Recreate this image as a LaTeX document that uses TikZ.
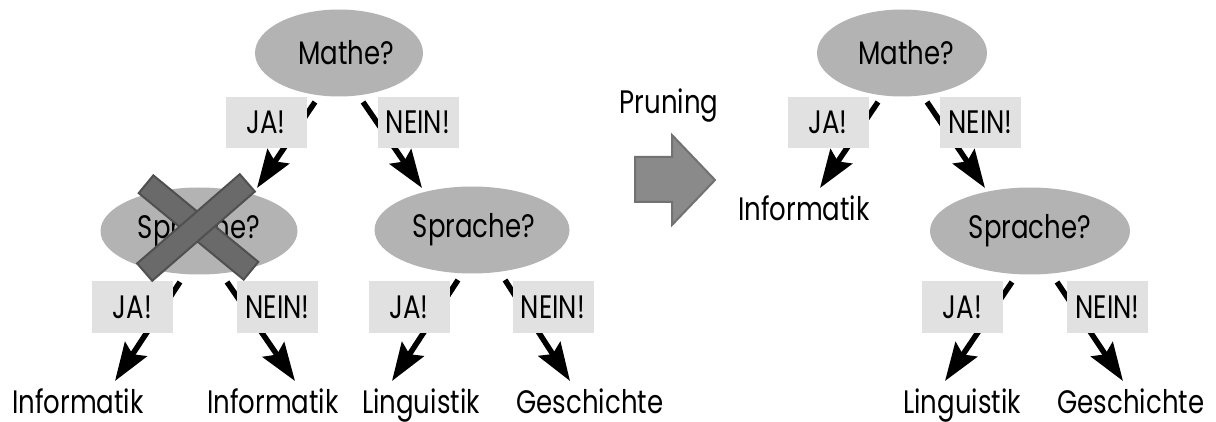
\documentclass[tikz,border=0pt]{standalone}
\usepackage{fontspec}
\setmainfont[FakeStretch=0.8]{Poppins}
\usetikzlibrary{shapes.geometric,arrows.meta,calc}
\definecolor{qfill}{HTML}{B3B3B3}
\definecolor{afill}{HTML}{E1E1E1}
\definecolor{xfill}{HTML}{6A6A6A}
\definecolor{xline}{HTML}{505050}
\definecolor{pfill}{HTML}{8A8A8A}
\definecolor{pline}{HTML}{727272}
\tikzset{
  question/.style={ellipse, fill=qfill, inner sep=0pt, minimum height=87pt},
  answer/.style={rectangle, fill=afill, inner sep=0pt, minimum width=81pt, minimum height=51pt},
  leaf/.style={inner sep=0pt, anchor=base},
  branch/.style={line width=5.5pt, -{Stealth[length=38pt, width=26pt, inset=6pt]}},
  crossbar/.style={rectangle, fill=xfill, draw=xline, line width=2pt, minimum width=136pt, minimum height=23pt},
  txt/.style={font=\fontsize{32.5}{34}\selectfont}
}
\begin{document}
\begin{tikzpicture}[x=1pt, y=-1pt, txt]
\useasboundingbox (0,0) rectangle (1216,422);

% ---------- full tree ----------
\node[question, minimum width=168pt] (m1) at (339,53) {\hspace*{14pt}Mathe?};
\node[question, minimum width=197pt] (s1) at (199,231) {Sprache?};
\node[question, minimum width=195pt] (s2) at (472,230) {\hspace*{4pt}Sprache?};

\coordinate (m1ja)  at (315,102);  \coordinate (m1jat)  at (257,188);
\coordinate (m1ne)  at (363,102);  \coordinate (m1net)  at (422,188);
\coordinate (s1ja)  at (180,282);  \coordinate (s1jat)  at (115,381);
\coordinate (s1ne)  at (227,282);  \coordinate (s1net)  at (295,381);
\coordinate (s2ja)  at (458,280);  \coordinate (s2jat)  at (392,381);
\coordinate (s2ne)  at (505,280);  \coordinate (s2net)  at (570,381);

\draw[branch] (m1ja) -- (m1jat);
\draw[branch] (m1ne) -- (m1net);
\draw[branch] (s1ja) -- (s1jat);
\draw[branch] (s1ne) -- (s1net);
\draw[branch] (s2ja) -- (s2jat);
\draw[branch] (s2ne) -- (s2net);

\node[answer] (j1) at (266,122.5) {JA!};
\node[answer] (n1) at (418,122.5) {NEIN!};
\node[answer] (j2) at (132.5,307) {JA!};
\node[answer] (n2) at (277.5,307) {NEIN!};
\node[answer] (j3) at (409,307) {JA!};
\node[answer] (n3) at (553,307) {NEIN!};

\node[leaf] (i1) at (78,413)  {Informatik};
\node[leaf] (i2) at (273,413) {Informatik};
\node[leaf] (l1) at (421,413) {Linguistik};
\node[leaf] (g1) at (590,413) {Geschichte};

% cut-off subtree marker
\node[crossbar, rotate=-39.5] (xa) at (198.5,227.5) {};
\node[crossbar, rotate=41] (xb) at (196,227.5) {};

% ---------- pruning step ----------
\node[inner sep=0pt] (pr) at (669,106) {Pruning};
\draw[fill=pfill, draw=pline, line width=2pt, line join=miter]
  (635,157) -- (672,157) -- (672,135) -- (715,180) -- (672,225) -- (672,202) -- (635,202) -- cycle;

% ---------- pruned tree ----------
\node[question, minimum width=170pt] (m2) at (902,53) {\hspace*{8pt}Mathe?};
\node[question, minimum width=200pt] (s3) at (1030,231) {Sprache?};

\coordinate (m2ja)  at (878,102);  \coordinate (m2jat)  at (820,188);
\coordinate (m2ne)  at (927,102);  \coordinate (m2net)  at (985,188);
\coordinate (s3ja)  at (1012,282); \coordinate (s3jat)  at (945,381);
\coordinate (s3ne)  at (1057,282); \coordinate (s3net)  at (1123,381);

\draw[branch] (m2ja) -- (m2jat);
\draw[branch] (m2ne) -- (m2net);
\draw[branch] (s3ja) -- (s3jat);
\draw[branch] (s3ne) -- (s3net);

\node[answer] (j4) at (828,122.5) {JA!};
\node[answer] (n4) at (980.5,122.5) {NEIN!};
\node[answer] (j5) at (962.5,307) {JA!};
\node[answer] (n5) at (1107.5,307) {NEIN!};

\node[leaf] (i3) at (804,221) {Informatik};
\node[leaf] (l2) at (962,413) {Linguistik};
\node[leaf] (g2) at (1131,413) {Geschichte};
\end{tikzpicture}
\end{document}
